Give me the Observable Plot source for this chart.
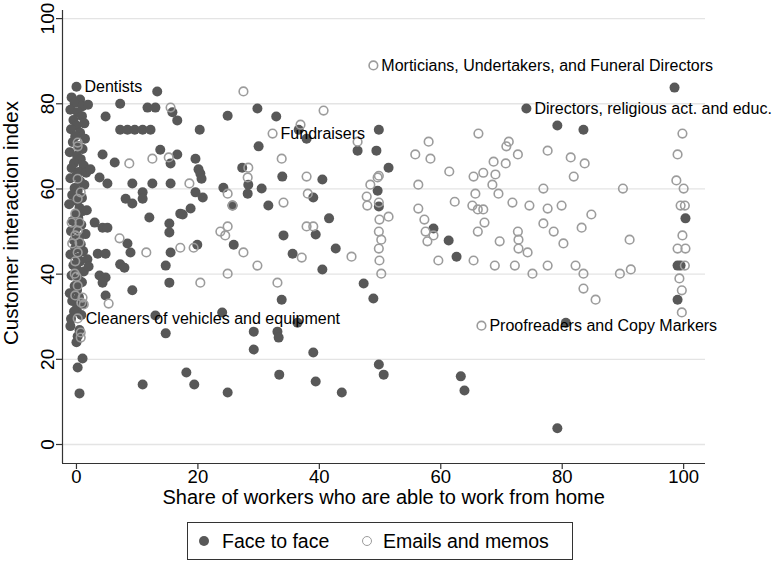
<!DOCTYPE html>
<html><head><meta charset="utf-8">
<script src="https://cdn.jsdelivr.net/npm/d3@7"></script>
<script src="https://cdn.jsdelivr.net/npm/@observablehq/plot@0.6"></script>
<style>
body{margin:0;background:#fff;font-family:"Liberation Sans",Arial,sans-serif;}
#wrap{position:relative;width:777px;height:563px;overflow:hidden;}
#legend{position:absolute;left:187px;top:522px;width:386px;height:38px;border:1px solid #333;box-sizing:border-box;font-size:19.5px;color:#000;}
#legend .dot{position:absolute;top:13px;width:10px;height:10px;border-radius:50%;box-sizing:border-box;}
#legend .lab{position:absolute;top:0;line-height:36px;white-space:nowrap;}
</style></head><body><div id="wrap"></div>
<script>
// x = share of workers able to work from home, y = customer interaction index
const faceToFace = [
[0,84],
[-0.8,81.5],[0.6,81],[-0.3,80.2],[1.0,79.4],[-1.0,78.6],[0.2,78],[0.9,77.1],[-0.5,76.2],[1.3,75.4],[0,74.9],
[-0.9,74],[0.6,73.2],[-0.2,72.4],[1.4,71.8],[-0.6,71],[0.3,70.1],[1.0,69.4],[-1.1,68.6],[0.1,67.8],[0.7,67],
[-0.4,66.1],[1.2,65.5],[-0.8,64.9],[0.4,64],[0,63.2],[-1.0,62.5],[0.6,61.8],[1.3,61],[-0.3,60.2],[0.2,59.5],
[-0.7,58.6],[0.9,57.9],[0.1,57.1],[-1.2,56.4],[0.5,55.6],[1.0,54.8],[-0.1,54.1],[0.3,53.2],[-0.6,52.5],[0.8,51.6],
[0,50.9],[-0.9,50.1],[1.5,49.4],[0.4,48.6],[-0.4,47.9],[0.7,47],[-0.2,46.1],[1.1,45.4],[-1.0,44.6],[0.2,43.8],
[0.6,43],[-0.5,42.1],[0,41.3],[1.2,40.6],[-0.8,39.7],[0.3,38.8],[0.9,38.1],[-0.3,37.2],[0.1,36.3],[-1.1,35.5],
[0.4,34.6],[-0.7,33.7],[1.0,33],[0.1,32.1],[-0.4,31.2],[0.8,30.4],[-0.9,29.5],[-1.0,27.8],[0.5,26.9],[0.2,25.4],
[0,24],[1.8,43.5],[2.0,41.8],[1.6,63.8],[1.7,55],[1.9,79.8],
[13.3,82.9],[7.2,80],[11.7,79.1],[13.0,79.1],[15.8,78],[4.8,77],[16.6,76.1],[7.2,73.9],[8.4,73.9],[9.6,73.9],
[10.9,73.9],[12.2,73.9],[4.3,68.1],[6.3,66.2],[13.8,69.2],[16.6,68.1],[15.5,66],[2.3,64.6],[3.8,62.7],[5.1,61.3],
[9.2,61.3],[12.5,61.3],[15.5,61.3],[8.1,57.7],[9.2,56.6],[10.9,59.2],[10.9,57.7],[12.0,53.3],[15.3,51.9],[17.1,54.2],
[18.8,55.4],[15.3,49.8],[3.0,52.1],[4.3,50.9],[5.1,50.9],[8.4,47.2],[8.9,45.1],[3.5,44.8],[4.8,44.8],[15.5,45.1],
[7.2,42.3],[7.9,41.5],[3.8,39.7],[4.8,39.2],[4.3,38],[14.7,42],[15.3,38],[9.2,36.2],[4.8,35],[13.0,30.3],
[14.7,26.1],[1.0,20.2],[0.2,18.1],[0.5,12],[10.9,14.1],[18.1,16.9],[19.4,14.1],[24.9,12.2],[29.2,26.5],[29.2,22.3],
[24.0,31],[25.9,46.9],[19.9,46.9],[34.1,49.1],[35.6,44.8],[39.4,49.3],[42.7,46],[61.3,47.9],[40.5,41.1],[33.8,34],
[47.3,37.8],[48.9,34.3],[33.1,26.5],[33.3,25.1],[36.4,28.6],[39.0,21.6],[33.4,16.4],[39.4,14.8],[43.7,12.2],[49.8,18.8],
[50.6,16.4],[62.6,44.1],[63.3,16],[63.9,12.7],[79.2,3.8],[80.6,28.6],[99.0,42],[99.5,42],[99.0,34],[98.5,83.8],
[74.1,78.9],[79.2,74.9],[83.5,73.9],[100.3,53.1],[49.8,73.9],[46.3,69],[49.4,69],[51.4,65],[49.6,59.6],[49.8,55.9],
[58.8,50.7],[41.6,53.1],[24.9,77.2],[29.8,78.9],[32.9,77],[36.6,73.9],[37.9,71.8],[20.3,73.9],[30.0,70],[19.6,67.1],
[20.1,64.6],[20.4,63.6],[20.6,62.4],[27.3,65],[28.3,61],[33.9,62.9],[40.5,62.2],[19.6,59.2],[20.8,58],[24.2,60.3],
[28.2,58.9],[30.5,60.1],[25.7,56.1],[31.6,56.1],[39.0,58],[17.5,54]
];
const emailsMemos = [
[0.2,70.9],[0.2,70],[0.2,62.4],[0.7,59.2],[0.2,57.7],[-0.2,54.2],[-0.8,52.1],[0.5,52.1],[0.2,50.2],[-0.2,49.1],
[-0.7,47.2],[0.5,47.4],[0.2,45.1],[-0.2,43],[-0.3,40.1],[0,39.4],[0.2,37.3],[-0.2,35],[1.0,34.5],[0.8,33.3],
[1.2,32.9],[0.2,29.6],[0.7,26.3],[0.7,25.1],[5.3,33.1],[7.1,48.4],[8.7,66],[12.5,67.1],[15.2,67.4],[15.5,79.1],
[18.6,61.3],[11.5,45.1],[17.1,46.2],[19.3,46.2],[27.5,82.9],[40.7,78.4],[36.9,75.1],[32.3,73],[33.8,67.1],[28.3,65],
[28.2,62.7],[37.9,62.9],[24.9,58.9],[25.7,56.1],[34.1,56.8],[38.1,58.9],[24.9,51.2],[23.7,50],[24.5,49.1],[27.5,45.1],
[37.9,51.2],[39.0,51.2],[37.1,43.9],[29.8,42],[24.9,40.1],[20.4,38],[33.1,38],[45.3,44.1],[48.9,89],[46.3,71.1],
[58.0,71.1],[66.2,73],[55.8,68.1],[58.3,67.1],[61.4,64.1],[49.8,63.1],[49.6,62.7],[48.4,61],[56.3,61],[47.8,58.2],
[47.9,56.1],[49.8,56.8],[51.4,53.5],[49.9,52.8],[57.3,52.8],[56.3,55.4],[57.5,50],[58.8,49.1],[57.8,47.7],[49.8,50],
[50.2,48.1],[49.8,46],[49.9,43.2],[50.2,40.1],[59.6,43.2],[65.4,43.2],[66.1,50],[67.2,52.1],[67,55.2],[66.1,55.2],
[65.2,56.1],[67,63.8],[69,63.4],[65.4,62.9],[71.2,71.1],[70.8,70],[72.7,68.1],[68.7,66.4],[70.7,66],[68.5,61],
[65.7,58.9],[69.5,58.9],[62.3,57],[71.8,56.8],[74.6,56.1],[77.6,55.4],[79.9,56.1],[84.8,54],[76.9,51.9],[78.6,50],
[83.2,50.9],[72.7,50],[72.8,48.1],[72.8,46],[74.3,45.1],[69.7,47.7],[80.2,47.2],[91.1,48.1],[68.9,42],[72.2,42],
[75.1,40.1],[77.6,42],[82.2,42],[83.5,40.1],[83.5,36.6],[85.5,34],[89.5,40.1],[91.3,41.1],[77.6,69],[81.4,67.4],
[83.7,66],[81.9,62.9],[76.9,60.1],[90,60.1],[99.8,73],[99,68.1],[98.8,62],[100,60.1],[99.5,56.1],[100.2,56.1],
[99.8,49.1],[99,46],[100.3,46],[100.2,42],[99.3,39],[99.7,36.2],[99.7,31],[66.7,27.9]
];
const labelNames = ["Dentists","Morticians, Undertakers, and Funeral Directors","Directors, religious act. and educ.","Fundraisers","Cleaners of vehicles and equipment","Proofreaders and Copy Markers"];
const labelX = [0, 48.9, 74.1, 32.3, 0.2, 66.7];
const labelY = [84, 89, 78.9, 73, 29.6, 27.9];
const xTicks = [0, 20, 40, 60, 80, 100];
const yTicks = [0, 20, 40, 60, 80, 100];
const seriesNames = ["Face to face", "Emails and memos"];
const xTitle = "Share of workers who are able to work from home";
const yTitle = "Customer interaction index";

const X0 = -2.3, X1 = 103.6, Y0 = -4.46, Y1 = 101.9;
const FF = "#585858", EM = "#9c9c9c";
const ff = faceToFace.map(([x, y]) => ({x, y}));
const em = emailsMemos.map(([x, y]) => ({x, y}));
const labels = labelNames.map((t, i) => ({t, x: labelX[i], y: labelY[i]}));

const chart = Plot.plot({
  width: 777, height: 512,
  marginLeft: 62, marginRight: 72, marginTop: 10, marginBottom: 49,
  style: {fontFamily: "'Liberation Sans', Arial, sans-serif", background: "#fff", color: "#000"},
  x: {domain: [X0, X1]},
  y: {domain: [Y0, Y1]},
  marks: [
    Plot.gridY(yTicks, {stroke: "#e4e4e4", strokeOpacity: 1, strokeWidth: 1.3}),
    Plot.dot(ff, {x: "x", y: "y", r: 5, fill: FF, stroke: "none"}),
    Plot.dot(em, {x: "x", y: "y", r: 4.3, fill: "none", stroke: EM, strokeWidth: 1.6}),
    Plot.text(labels, {x: "x", y: "y", text: "t", textAnchor: "start", dx: 8, fontSize: 16, fill: "#000", lineAnchor: "middle"}),
    Plot.ruleX([X0], {stroke: "#333", strokeWidth: 1.2}),
    Plot.ruleY([Y0], {stroke: "#333", strokeWidth: 1.2}),
    Plot.axisX(xTicks, {tickSize: 6, tickPadding: 0, fontSize: 18.5, label: null, stroke: "#333", strokeWidth: 1.2}),
    Plot.axisY(yTicks, {tickSize: 6, tickFormat: () => "", label: null, stroke: "#333", strokeWidth: 1.2}),
    Plot.text(yTicks, {x: X0, y: d => d, text: d => String(d), rotate: -90, dx: -15, fontSize: 19, textAnchor: "middle", lineAnchor: "middle", fill: "#000"}),
    Plot.text([yTitle], {x: X0, y: 52, text: d => d, rotate: -90, dx: -51, fontSize: 20.5, textAnchor: "middle", lineAnchor: "middle", fill: "#000"}),
    Plot.text([xTitle], {x: 50.6, y: Y0, text: d => d, dy: 34, fontSize: 20, textAnchor: "middle", lineAnchor: "middle", fill: "#000"})
  ]
});
const wrap = document.getElementById("wrap");
wrap.appendChild(chart);
const leg = document.createElement("div");
leg.id = "legend";
leg.innerHTML =
  `<span class="dot" style="left:11px;background:${FF}"></span><span class="lab" style="left:34px">${seriesNames[0]}</span>` +
  `<span class="dot" style="left:174px;border:1.6px solid ${EM}"></span><span class="lab" style="left:195px">${seriesNames[1]}</span>`;
wrap.appendChild(leg);
</script></body></html>
